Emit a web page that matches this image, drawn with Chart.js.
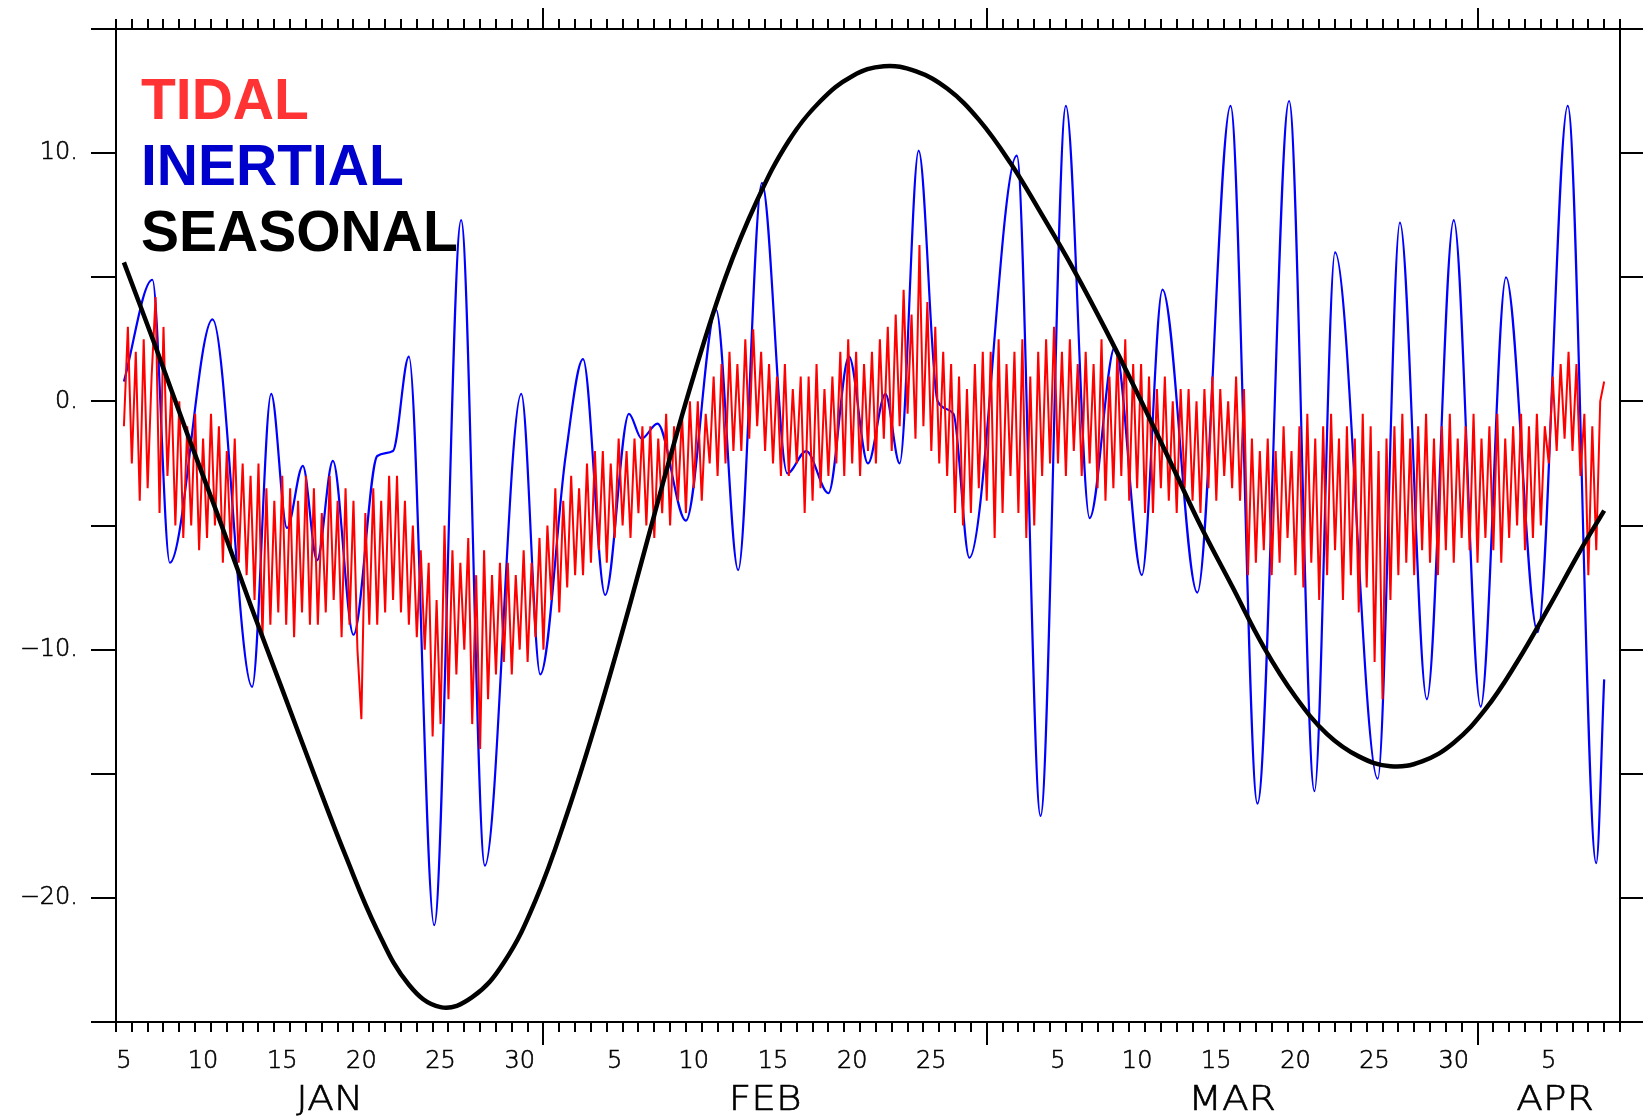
<!DOCTYPE html>
<html>
<head>
<meta charset="utf-8">
<script src="https://cdn.jsdelivr.net/npm/chart.js@4.4.1/dist/chart.umd.min.js"></script>
<style>
  html, body { margin: 0; padding: 0; background: #fff; }
  #wrap { position: relative; width: 1643px; height: 1117px; }
  #plot { position: absolute; left: 0; top: 0; }
  .key { position: absolute; left: 141px; font: bold 57px "Liberation Sans", Arial, sans-serif; line-height: 57px; white-space: nowrap; }
</style>
</head>
<body>
<div id="wrap">
  <canvas id="plot" width="1643" height="1117"></canvas>
  <div class="key" style="top:71px;color:#ff3333">TIDAL</div>
  <div class="key" style="top:137px;color:#0000cc">INERTIAL</div>
  <div class="key" style="top:203px;color:#000">SEASONAL</div>
</div>
<script>
// x values are days since Jan 1 00:00 (Jan 5 = 4, Apr 10 = 99)
const months = ['JAN', 'FEB', 'MAR', 'APR'];
const monthStart = [0, 31, 59, 90];
const monthLabelDay = [17.5, 45, 74.5, 94.9];
const yLabelValues = [10, 0, -10, -20];

// seasonal signal, every 2 days
const seasonalDay = [4.5, 6.5, 8.5, 10.5, 12.5, 14.5, 16.5, 18.5, 20.5, 22.5, 24.5, 26.5, 28.5, 30.5, 32.5, 34.5,
  36.5, 38.5, 40.5, 42.5, 44.5, 46.5, 48.5, 50.5, 52.5, 54.5, 56.5, 58.5, 60.5, 62.5, 64.5, 66.5, 68.5, 70.5,
  72.5, 74.5, 76.5, 78.5, 80.5, 82.5, 84.5, 86.5, 88.5, 90.5, 92.5, 94.5, 96.5, 98.0];
const seasonal = [5.6, 2.2, -1.3, -4.7, -8.2, -11.6, -15.0, -18.3, -21.3, -23.5, -24.4, -24.0, -22.6, -20.1, -16.6, -12.55,
  -8.1, -3.4, 1.05, 5.0, 8.1, 10.5, 12.1, 13.1, 13.5, 13.3, 12.6, 11.35, 9.6, 7.5, 5.3, 2.9, 0.35, -2.3,
  -5.0, -7.45, -9.9, -11.9, -13.4, -14.3, -14.7, -14.5, -13.75, -12.4, -10.5, -8.3, -6.0, -4.4];

// inertial signal: turning points
const inertialDay = [4.5, 6.3, 7.4, 10.1, 12.6, 13.8, 14.8, 15.8, 16.7, 17.7, 19.0, 20.5, 21.5, 22.5, 24.1, 25.8,
  27.3, 29.6, 30.8, 32.4, 33.5, 34.9, 36.4, 37.2, 38.2, 40.0, 41.9, 43.3, 44.8, 46.4, 47.6, 49.0, 50.3, 51.5, 52.6,
  53.5, 54.7, 55.9, 56.9, 57.9, 60.9, 62.4, 64.0, 65.5, 67.1, 68.8, 70.1, 72.3, 74.4, 76.1, 78.1, 79.7, 81.0, 83.7,
  85.1, 86.8, 88.5, 90.2, 91.8, 93.8, 95.7, 97.5, 98.0];
const inertial = [0.8, 4.9, -6.5, 3.3, -11.5, 0.3, -5.1, -2.6, -6.4, -2.4, -9.4, -2.2, -2.0, 1.8, -21.1, 7.3,
  -18.7, 0.3, -11.0, -2.2, 1.7, -7.8, -0.5, -1.5, -0.9, -4.8, 3.7, -6.8, 8.8, -2.9, -2.0, -3.7, 1.8, -2.5, 0.3,
  -2.5, 10.1, 0.0, -0.5, -6.3, 9.9, -16.7, 11.9, -4.7, 2.2, -7.0, 4.5, -7.7, 11.9, -16.2, 12.1, -15.7, 6.0, -15.2,
  7.2, -12.0, 7.3, -12.3, 5.0, -9.3, 11.9, -18.6, -11.2];

// tidal signal, 6-hourly from Jan 5 12:00 (one group per day)
const tidalStart = 4.5;
const tidalStep = 0.25;
const tidal = [
  -1.0, 3.0, -2.5, 2.0,    -4.0, 2.5, -3.5, 1.0,    4.2, -4.5, 3.0, -3.0,    0.5, -5.0, 0.0, -5.5,
  -1.0, -5.0, -0.5, -6.0,  -1.5, -5.5, -0.5, -5.0,  -1.0, -6.5, -2.0, -6.0,  -1.5, -6.5, -2.5, -7.0,
  -3.0, -8.0, -2.5, -9.5,  -3.5, -9.0, -4.0, -8.5,  -3.0, -9.0, -3.5, -9.5,  -4.0, -8.5, -3.0, -9.0,
  -3.5, -9.0, -4.5, -8.5,  -3.0, -8.0, -4.0, -9.5,  -3.5, -9.0, -4.0, -10.0, -12.8, -4.5, -9.0, -3.5,
  -9.0, -4.0, -8.5, -3.0,  -8.0, -3.0, -8.5, -4.0,  -9.0, -5.0, -9.5, -6.0,  -10.0, -6.5, -13.5, -8.0,
  -13.0, -5.0, -12.0, -6.0, -11.0, -6.5, -10.0, -5.5, -13.0, -7.0, -14.0, -6.0, -12.0, -7.0, -11.0, -6.5,
  -10.5, -6.5, -11.0, -7.0, -10.0, -6.0, -10.5, -6.5, -9.5, -5.5, -10.0, -5.0, -8.0, -3.5, -8.5, -4.0,
  -7.5, -3.0, -7.0, -3.5,  -7.0, -2.5, -6.5, -2.0,  -6.0, -2.0, -6.5, -2.5,  -5.5, -1.5, -5.0, -2.0,
  -5.5, -1.5, -4.5, -1.0,  -5.0, -1.0, -5.5, -1.5,  -4.5, -0.5, -5.0, -1.0,  -4.0, -0.5, -4.5, 0.0,
  -3.5, 0.0, -4.0, -0.5,   -2.5, 1.0, -3.0, 1.5,    -2.5, 2.0, -2.0, 1.5,    -2.0, 2.5, -1.5, 2.9,
  -1.0, 2.0, -2.0, 1.5,    -2.5, 1.0, -3.0, 1.5,    -3.0, 0.5, -2.5, 1.0,    -4.5, 1.0, -4.0, 1.5,
  -3.5, 0.5, -3.0, 1.0,    -2.5, 2.0, -3.0, 2.5,    -2.5, 2.0, -3.0, 1.5,    -2.0, 2.0, -2.5, 2.5,
  -1.5, 3.0, -2.0, 3.5,    -1.0, 4.5, -0.5, 3.5,    -1.5, 6.3, -1.0, 4.0,    -2.0, 3.0, -2.5, 2.0,
  -3.0, 1.5, -4.5, 1.0,    -5.0, 0.5, -4.5, 1.5,    -3.5, 2.0, -4.0, 2.0,    -5.5, 2.5, -4.5, 1.5,
  -3.0, 2.0, -4.5, 2.5,    -5.5, 1.0, -5.0, 2.0,    -3.0, 2.5, -2.5, 3.0,    -2.5, 2.0, -3.0, 2.5,
  -2.0, 1.5, -3.0, 2.0,    -2.5, 1.5, -3.5, 2.5,    -4.0, 1.0, -3.5, 2.0,    -3.0, 2.5, -4.0, 1.5,
  -3.5, 1.5, -4.5, 1.0,    -4.5, 0.5, -3.5, 1.0,    -4.0, 0.0, -4.5, 0.5,    -3.5, 0.5, -4.0, 0.0,
  -4.5, 0.5, -3.5, 1.0,    -4.0, 0.5, -3.0, 0.0,    -3.5, 1.0, -4.0, 0.5,    -7.0, -1.5, -6.5, -2.0,
  -6.0, -1.5, -7.0, -2.0,  -6.5, -1.0, -5.5, -2.0,  -7.0, -1.0, -7.5, -0.5,  -6.5, -1.5, -8.0, -1.0,
  -7.0, -0.5, -6.0, -1.5,  -8.0, -1.0, -7.0, -1.5,  -8.5, -0.5, -7.5, -1.0,  -10.5, -2.0, -12.0, -1.5,
  -8.0, -1.0, -7.0, -0.5,  -6.5, -1.5, -7.0, -1.0,  -6.0, -0.5, -6.5, -1.5,  -7.0, -1.0, -6.0, -0.5,
  -6.5, -1.5, -5.5, -1.0,  -6.0, -0.5, -6.5, -1.5,  -5.5, -1.0, -6.0, -0.5,  -6.5, -1.5, -5.5, -1.0,
  -5.0, -0.5, -6.0, -1.0,  -5.5, -0.5, -5.0, -1.0,  -2.5, 1.0, -2.0, 1.5,    -1.5, 2.0, -2.0, 1.5,
  -3.0, -0.5, -7.0, -1.0,  -6.0, 0.0, 0.8
];

const xTickValues = [];
for (let v = 4; v <= 99; v += 0.5) xTickValues.push(v);
const yTickValues = [-25, -20, -15, -10, -5, 0, 5, 10, 15];

function dayLabel(v) {
  if (v % 1 !== 0.5) return '';
  const d = Math.floor(v);
  let m = 0;
  while (m + 1 < monthStart.length && monthStart[m + 1] <= d) m++;
  const dom = d - monthStart[m] + 1;
  return dom % 5 === 0 ? String(dom) : '';
}
function yLabel(v) {
  if (!yLabelValues.includes(v)) return '';
  return (v < 0 ? '\u2212' : '') + Math.abs(v) + '.';
}

const seasonalPts = seasonalDay.map((d, i) => ({ x: d, y: seasonal[i] }));
const inertialPts = inertialDay.map((d, i) => ({ x: d, y: inertial[i] }));
const tidalPts = tidal.map((v, i) => ({ x: tidalStart + i * tidalStep, y: v }));

const tickFont = { family: 'DejaVu Sans', size: 24, weight: 200 };
const xTicks = s => { s.ticks = xTickValues.map(v => ({ value: v })); };
const yTicks = s => { s.ticks = yTickValues.map(v => ({ value: v })); };
const dayGrid = c => (c.tick && c.tick.value % 1 === 0) ? '#000' : 'rgba(0,0,0,0)';

const monthMarks = {
  id: 'monthMarks',
  afterDraw(chart) {
    const { ctx, chartArea } = chart;
    const x = chart.scales.x;
    ctx.save();
    ctx.strokeStyle = '#000';
    ctx.lineWidth = 2;
    monthStart.forEach(d => {
      if (d <= x.min) return;
      const px = Math.round(x.getPixelForValue(d));
      ctx.beginPath();
      ctx.moveTo(px, chartArea.bottom);
      ctx.lineTo(px, chartArea.bottom + 23);
      ctx.moveTo(px, chartArea.top);
      ctx.lineTo(px, chartArea.top - 21);
      ctx.stroke();
    });
    ctx.fillStyle = '#000';
    ctx.lineWidth = 0.6;
    ctx.font = '200 34px "DejaVu Sans"';
    ctx.textAlign = 'center';
    ctx.textBaseline = 'middle';
    months.forEach((m, i) => {
      ctx.save();
      ctx.translate(x.getPixelForValue(monthLabelDay[i]), 1101);
      ctx.scale(1.15, 1);
      ctx.fillText(m, 0, 0);
      ctx.strokeText(m, 0, 0);
      ctx.restore();
    });
    ctx.restore();
  }
};

new Chart(document.getElementById('plot'), {
  type: 'line',
  data: {
    datasets: [
      { label: 'SEASONAL', data: seasonalPts, borderColor: '#000', borderWidth: 4.5,
        tension: 0.4, pointRadius: 0, order: 1 },
      { label: 'TIDAL', data: tidalPts, borderColor: '#ff0000', borderWidth: 2,
        tension: 0, pointRadius: 0, order: 2 },
      { label: 'INERTIAL', data: inertialPts, borderColor: '#0000ff', borderWidth: 2.2,
        cubicInterpolationMode: 'monotone', pointRadius: 0, order: 3 }
    ]
  },
  options: {
    responsive: false,
    animation: false,
    layout: { padding: 0 },
    plugins: { legend: { display: false }, tooltip: { enabled: false } },
    scales: {
      x: {
        type: 'linear', position: 'bottom', min: 4, max: 99,
        afterBuildTicks: xTicks,
        afterFit: s => { s.height = 95; },
        ticks: { autoSkip: false, maxRotation: 0, padding: 15, color: '#000', font: tickFont,
          textStrokeColor: '#000', textStrokeWidth: 0.6, callback: dayLabel },
        grid: { drawOnChartArea: false, tickLength: 10, lineWidth: 2, color: dayGrid },
        border: { color: '#000', width: 2 }
      },
      xt: {
        type: 'linear', position: 'top', min: 4, max: 99,
        afterBuildTicks: xTicks,
        afterFit: s => { s.height = 29; },
        ticks: { autoSkip: false, maxRotation: 0, callback: () => '' },
        grid: { drawOnChartArea: false, tickLength: 10, lineWidth: 2, color: dayGrid },
        border: { color: '#000', width: 2 }
      },
      y: {
        type: 'linear', position: 'left', min: -25, max: 15,
        afterBuildTicks: yTicks,
        afterFit: s => { s.width = 116; },
        ticks: { padding: 13, color: '#000', font: tickFont,
          textStrokeColor: '#000', textStrokeWidth: 0.6, callback: yLabel },
        grid: { drawOnChartArea: false, tickLength: 25, lineWidth: 2, color: '#000' },
        border: { color: '#000', width: 2 }
      },
      yr: {
        type: 'linear', position: 'right', min: -25, max: 15,
        afterBuildTicks: yTicks,
        afterFit: s => { s.width = 23; },
        ticks: { callback: () => '' },
        grid: { drawOnChartArea: false, tickLength: 23, lineWidth: 2, color: '#000' },
        border: { color: '#000', width: 2 }
      }
    }
  },
  plugins: [monthMarks]
});
</script>
</body>
</html>
